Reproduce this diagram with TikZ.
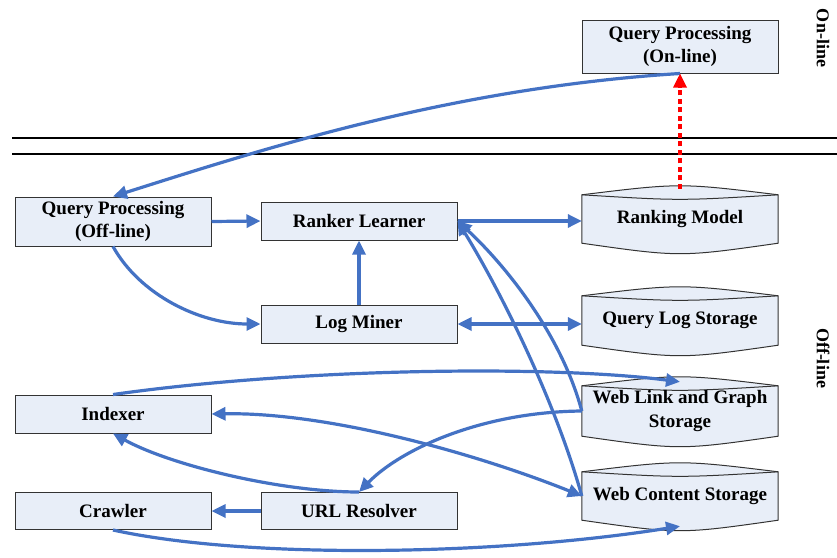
\documentclass[tikz,border=0pt]{standalone}
\usepackage{fontspec}
\setmainfont{Liberation Serif}
\usetikzlibrary{arrows.meta,calc,backgrounds}
\definecolor{boxfill}{HTML}{E8EEF8}
\definecolor{conncol}{HTML}{4472C4}
\definecolor{edgecol}{HTML}{333333}
\newcommand\lblfont{\fontsize{19}{23.5}\selectfont\bfseries}
\newcommand\cylshape[1]{%
  \filldraw[fill=boxfill,draw=edgecol,line width=1pt]
    (#1.north west) .. controls ($(#1.north)+(0,-12)$) .. (#1.north east)
    -- (#1.south east) .. controls ($(#1.south)+(0,14)$) .. (#1.south west) -- cycle;
  \draw[draw=edgecol,line width=1pt]
    (#1.north west) .. controls ($(#1.north)+(0,6)$) .. (#1.north east);
}
\begin{document}
\begin{tikzpicture}[x=1pt,y=-1pt,
  box/.style={draw=edgecol,line width=1pt,fill=boxfill,minimum width=196pt,
    minimum height=38pt,inner sep=0pt,align=center,font=\lblfont},
  cyl/.style={minimum width=196pt,minimum height=48pt,inner sep=0pt,
    align=center,font=\lblfont},
  conn/.style={draw=conncol,line width=3.2pt,
    -{Triangle[length=14pt,width=13pt]}},
  conntwo/.style={draw=conncol,line width=3.2pt,
    {Triangle[length=14pt,width=13pt]}-{Triangle[length=14pt,width=13pt]}},
  reddash/.style={draw=red,line width=3.2pt,dash pattern=on 5pt off 3.5pt,
    -{Triangle[length=14pt,width=13pt]}},
  side/.style={font=\fontsize{18}{22}\selectfont\bfseries,rotate=-90}]
\useasboundingbox (0,0) rectangle (837,557);

% separator lines
\coordinate (la) at (12,138);
\coordinate (lb) at (837,138);
\coordinate (lc) at (12,154);
\coordinate (ld) at (837,154);
\draw[line width=1.3pt] (la) -- (lb);
\draw[line width=1.3pt] (lc) -- (ld);

\node[side] (online) at (823,38) {On-line};
\node[side] (offline) at (823,358) {Off-line};

% boxes
\node[box,minimum height=53pt] (qpon) at (680,46.5) {Query Processing\\(On-line)};
\node[box,minimum height=49pt] (qpoff) at (113,221.5) {Query Processing\\(Off-line)};
\node[box] (rl) at (359,221) {Ranker Learner};
\node[box] (lm) at (359,324) {Log Miner};
\node[box] (idx) at (113,414) {Indexer};
\node[box,minimum height=37pt] (crw) at (113,511) {Crawler};
\node[box,minimum height=37pt] (url) at (359,511) {URL Resolver};

% cylinders
\node[cyl] (rm) at (680,219) {Ranking Model};
\node[cyl,minimum height=49pt] (qls) at (680,320.5) {Query Log Storage};
\node[cyl,minimum height=50pt] (wlg) at (680,411) {Web Link and Graph\\Storage};
\node[cyl] (wcs) at (680,496) {Web Content Storage};
\begin{pgfonlayer}{background}
  \cylshape{rm}
  \cylshape{qls}
  \cylshape{wlg}
  \cylshape{wcs}
\end{pgfonlayer}

% connectors
\draw[conn] (qpon.south) .. controls (450,88) and (260,150) .. (qpoff.north);
\draw[conn] (qpoff.east) -- (rl.west);
\draw[conn] (qpoff.south) .. controls (140,295) and (200,324) .. (lm.west);
\draw[conn] (lm.north) -- (rl.south);
\draw[conn] (rl.east) -- (rl.east -| rm.west);
\draw[conntwo] (lm.east) -- (lm.east -| qls.west);
\draw[conn] (wlg.west) .. controls (560,330) and (500,260) .. (rl.east);
\draw[conn] (wcs.west) .. controls (555,400) and (500,290) .. (rl.east);
\draw[conn] (idx.north) .. controls (300,368) and (550,365) .. ([yshift=4pt]wlg.north);
\draw[conn] (wlg.west) .. controls (480,412) and (400,450) .. (url.north);
\draw[conntwo] (idx.east) .. controls (330,412) and (480,455) .. (wcs.west);
\draw[conn] (url.north) .. controls (280,492) and (170,465) .. (idx.south);
\draw[conn] (url.west) -- (crw.east);
\draw[conn] (crw.south) .. controls (250,560) and (500,555) .. ([yshift=-6pt]wcs.south);
\draw[reddash] ([yshift=6pt]rm.north) -- (qpon.south);
\end{tikzpicture}
\end{document}
